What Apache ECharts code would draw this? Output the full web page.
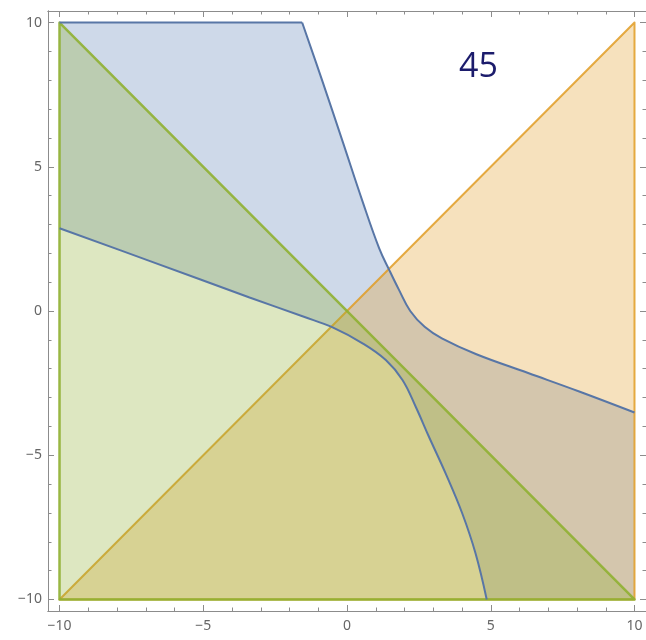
<!DOCTYPE html>
<html>
<head>
<meta charset="utf-8">
<script src="https://cdn.jsdelivr.net/npm/echarts@6/dist/echarts.min.js"></script>
<style>
  html, body { margin: 0; padding: 0; background: #fff; }
  #chart { width: 646px; height: 640px; }
</style>
</head>
<body>
<div id="chart"></div>
<script>
// ticks
var majorTicks = [-10, -5, 0, 5, 10];
var minorTicks = [-9, -8, -7, -6, -4, -3, -2, -1, 1, 2, 3, 4, 6, 7, 8, 9];

// blue region boundary
var upperBranch = [[-1.56, 10], [-0.85, 7.95], [-0.15, 5.87], [0.54, 3.8], [1.12, 2.17], [1.48, 1.4],
  [1.8, 0.75], [2.2, 0.0], [2.7, -0.55], [3.3, -0.95], [4.5, -1.5], [6.3, -2.15], [8.1, -2.8], [10, -3.52]];
var lowerBranch = [[-10, 2.87], [-6.85, 1.73], [-3.39, 0.47], [-1.5, -0.2], [-0.5, -0.57], [0.54, -1.12],
  [1.35, -1.7], [1.93, -2.39], [2.39, -3.32], [2.85, -4.36], [3.43, -5.63], [4.01, -7.02], [4.47, -8.4], [4.86, -10]];
var blueTopEdge = [[-10, 10], [-1.56, 10]];

// the two triangles
var orangeTriangle = [[-10, -10], [10, 10], [10, -10]];
var greenTriangle = [[-10, 10], [-10, -10], [10, -10]];

var plotLabel = '45';

var bluePolygon = [[-10, 10]].concat(upperBranch, [[10, -10]], lowerBranch.slice().reverse());

var chart = echarts.init(document.getElementById('chart'));

function polygonSeries(points, fill, stroke, width) {
  return {
    type: 'custom',
    coordinateSystem: 'cartesian2d',
    data: [0],
    silent: true,
    renderItem: function (params, api) {
      return {
        type: 'polygon',
        shape: { points: points.map(function (p) { return api.coord(p); }) },
        style: { fill: fill, stroke: stroke, lineWidth: width, lineJoin: 'round' }
      };
    }
  };
}

function lineSeries(points, color, smooth) {
  return {
    type: 'line',
    data: points,
    smooth: smooth,
    symbol: 'none',
    silent: true,
    lineStyle: { color: color, width: 2 }
  };
}

var frameColor = '#8c8c8c';
var blueLine = '#5876a6';
var fmt = function (v) { return String(v).replace('-', '\u2212'); };

function axisDef(pos, ticks, len, labels, margin) {
  return {
    type: 'value', position: pos, min: -10.4, max: 10.4,
    axisLine: { show: true, onZero: false, lineStyle: { color: frameColor, width: 1 } },
    axisTick: { show: true, inside: true, length: len, customValues: ticks, lineStyle: { color: frameColor } },
    axisLabel: labels ? { show: true, customValues: majorTicks, formatter: fmt, color: '#666', fontSize: 14, fontFamily: 'Noto Sans', margin: margin } : { show: false },
    splitLine: { show: false }
  };
}

var option = {
  animation: false,
  backgroundColor: '#fff',
  grid: { left: 48, top: 11, width: 600, height: 600 },
  xAxis: [
    axisDef('bottom', majorTicks, 6, true, 8),
    axisDef('bottom', minorTicks, 3.5, false),
    axisDef('top', majorTicks, 6, false),
    axisDef('top', minorTicks, 3.5, false)
  ],
  yAxis: [
    axisDef('left', majorTicks, 6, true, 6),
    axisDef('left', minorTicks, 3.5, false),
    axisDef('right', majorTicks, 6, false),
    axisDef('right', minorTicks, 3.5, false)
  ],
  graphic: [{
    type: 'text',
    left: 459, top: 50,
    style: { text: plotLabel, fill: '#1c1c6c', fontSize: 34, fontFamily: 'Open Sans' }
  }],
  series: [
    polygonSeries(bluePolygon, 'rgba(94,129,181,0.3)', null, 0),
    lineSeries(blueTopEdge, blueLine, false),
    lineSeries(upperBranch, blueLine, 0.4),
    lineSeries(lowerBranch, blueLine, 0.4),
    polygonSeries(orangeTriangle, 'rgba(225,156,36,0.3)', 'rgba(225,156,36,0.85)', 2),
    polygonSeries(greenTriangle, 'rgba(143,176,50,0.3)', 'rgba(143,176,50,0.9)', 2.5)
  ]
};

chart.setOption(option);
</script>
</body>
</html>
